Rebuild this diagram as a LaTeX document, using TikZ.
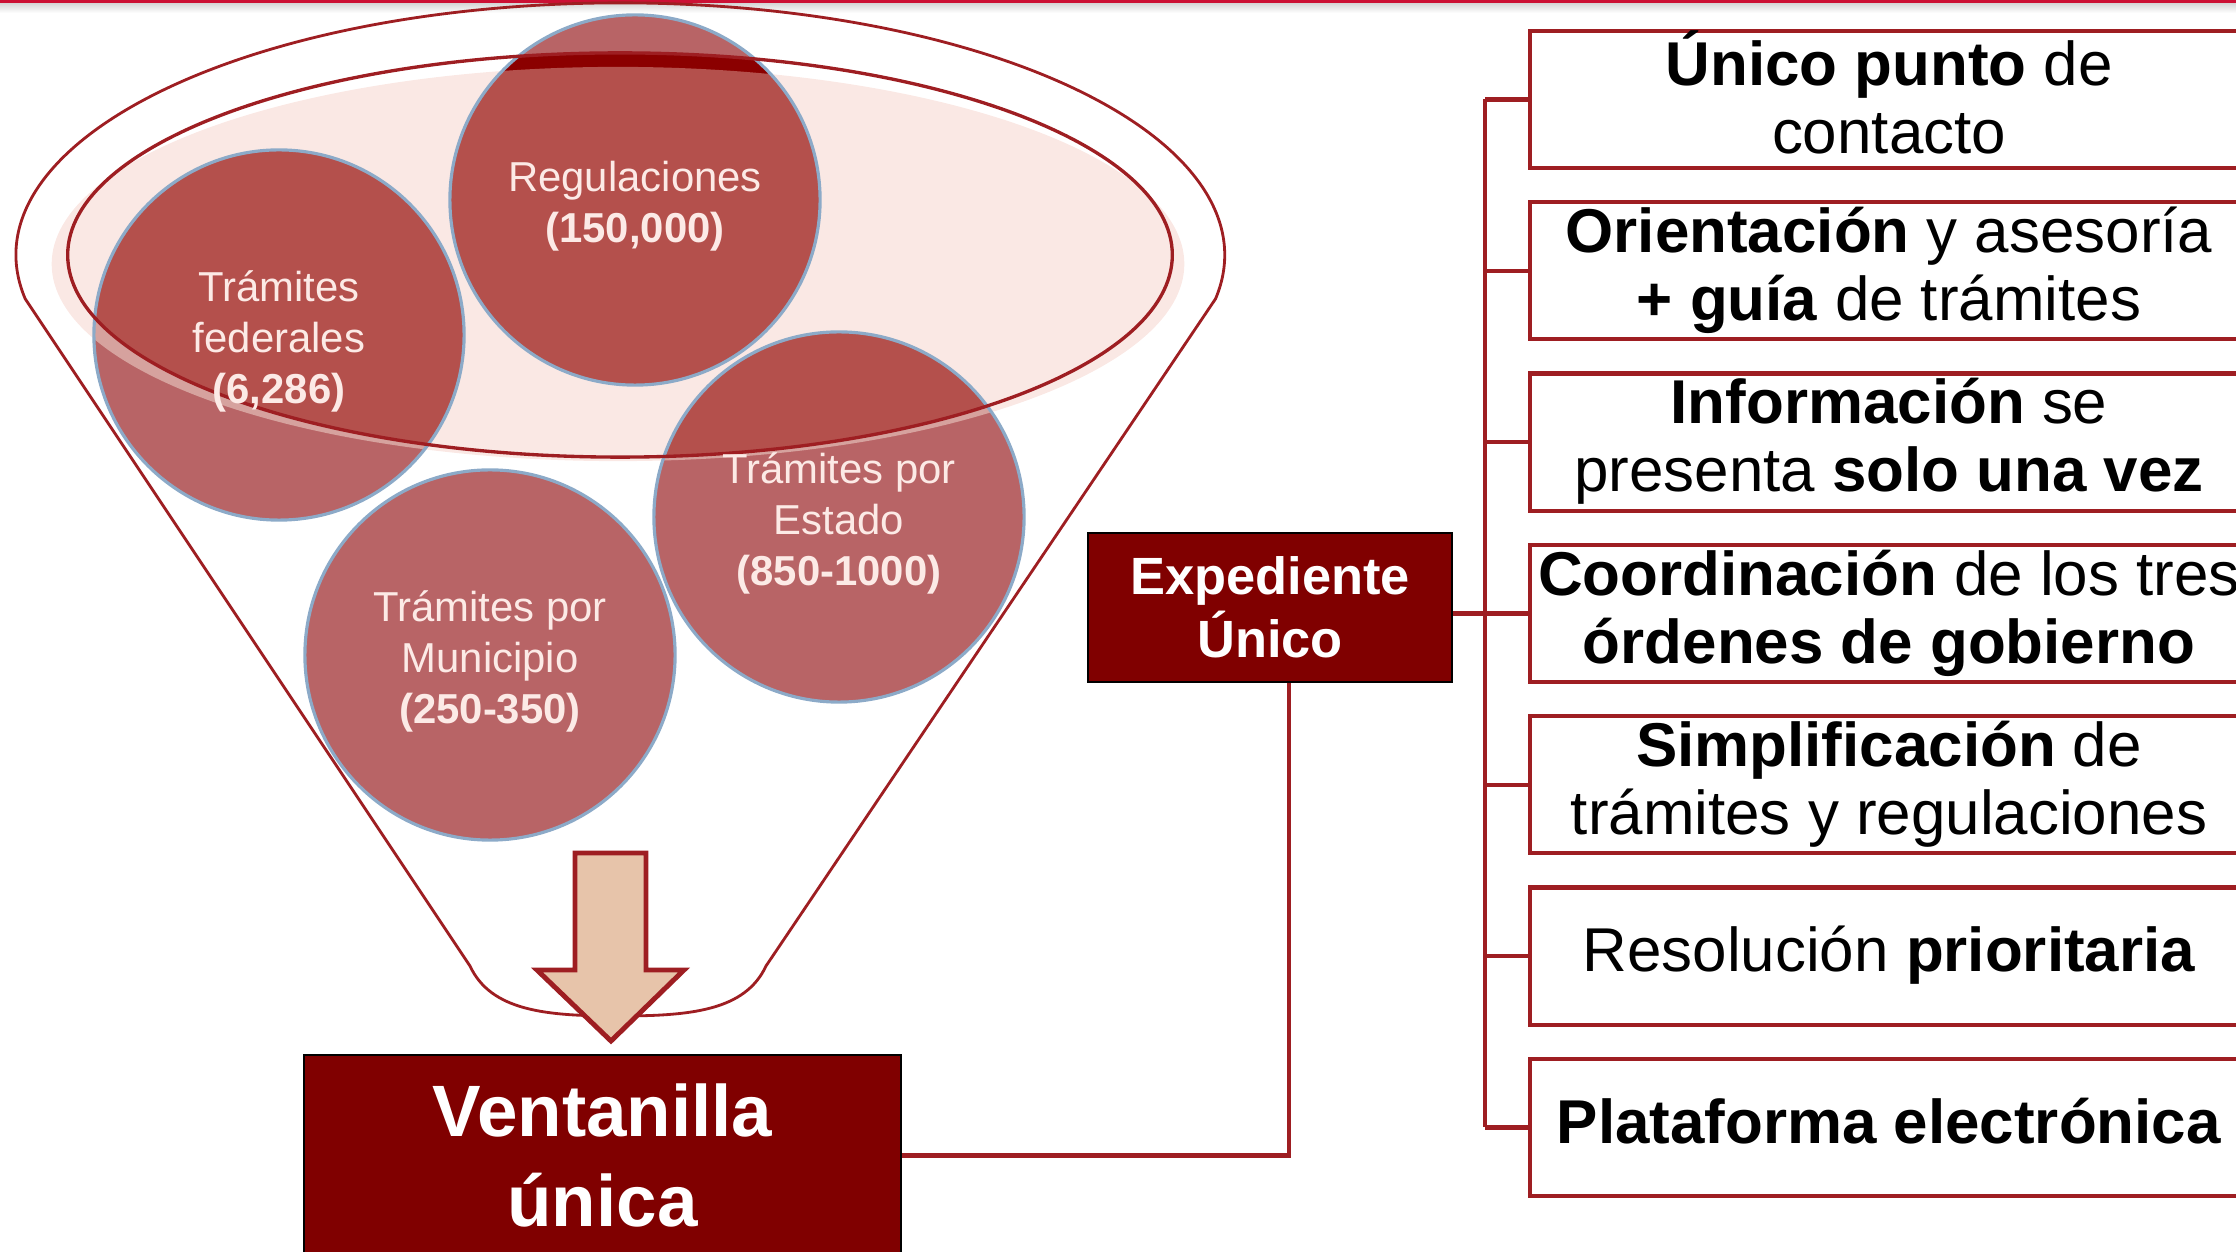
\documentclass[tikz,border=0pt]{standalone}
\usepackage{fontspec}
\setmainfont{Liberation Sans}
\usetikzlibrary{positioning}
\definecolor{lineRed}{RGB}{158,30,34}
\definecolor{boxRed}{RGB}{128,0,0}
\definecolor{bubLight}{RGB}{184,100,102}
\definecolor{bubDark}{RGB}{180,80,76}
\definecolor{bubBand}{RGB}{214,162,158}
\definecolor{bubTop}{RGB}{139,0,0}
\definecolor{bubEdge}{RGB}{140,170,200}
\definecolor{ovalPink}{RGB}{250,232,228}
\definecolor{arrowFill}{RGB}{231,196,170}
\definecolor{topRule}{RGB}{204,16,52}
\definecolor{bubText}{RGB}{252,234,230}
\newcommand{\ls}{\rule[-0.14cm]{0pt}{0.54cm}}
\newcommand{\itemfont}{\fontsize{17.6}{19.3}\selectfont\lineskiplimit=-1cm\relax}

\begin{document}
\begin{tikzpicture}[x=0.01cm, y=0.01cm,
  conn/.style={draw=lineRed, line width=1.2pt},
  itembox/.style={draw=lineRed, line width=1.2pt, fill=white, minimum width=7.18cm,
    minimum height=1.37cm, inner sep=0pt, align=center, font=\itemfont},
  darkbox/.style={draw=black, line width=0.5pt, fill=boxRed, text=white, inner sep=0pt, align=center},
  bubble/.style={circle, minimum size=3.7cm, inner sep=0pt, fill=bubLight},
  bubtext/.style={text=bubText, align=center, yshift=-0.06cm, font=\fontsize{11.9}{14.5}\selectfont}]
  \useasboundingbox (0,0) rectangle (2236,1251);
  \clip (0,0) rectangle (2236,1251);

  \shade [top color=black!18, bottom color=white] (0,1238) rectangle (2236,1249);
  \draw [topRule, line width=0.9pt] (0,1250) -- (2236,1250);

  % funnel mouth
  \fill [ovalPink] (618,987) ellipse [x radius=5.66cm, y radius=1.97cm];

  \node [bubble] (reg) at (635,1051) {};
  \node [bubble] (fed) at (279,916) {};
  \node [bubble] (est) at (839,734) {};
  \node [bubble] (mun) at (490,596) {};

  \begin{scope}
    \clip (618,987) ellipse [x radius=5.66cm, y radius=1.97cm];
    \foreach \b in {reg,fed,est,mun}
      \fill [bubBand] (\b.center) circle [radius=1.85cm];
  \end{scope}
  \begin{scope}
    \clip (620,996) ellipse [x radius=5.52cm, y radius=2.02cm];
    \fill [bubTop] (reg.center) circle [radius=1.85cm];
    \clip (618,987) ellipse [x radius=5.66cm, y radius=1.97cm];
    \foreach \b in {reg,fed,est,mun}
      \fill [bubDark] (\b.center) circle [radius=1.85cm];
  \end{scope}
  \foreach \b in {reg,fed,est,mun}
    \draw [bubEdge, line width=0.9pt] (\b.center) circle [radius=1.85cm];

  \draw [lineRed, line width=0.95pt] (620,996) ellipse [x radius=5.52cm, y radius=2.02cm];
  \draw [lineRed, line width=0.8pt] (25.2,952.2)
    arc [start angle=190, end angle=-10, x radius=6.04cm, y radius=2.52cm]
    -- (766,285) .. controls (745,240) and (690,235) .. (618,235)
    .. controls (546,235) and (491,240) .. (470,285) -- cycle;

  \draw [lineRed, line width=1.4pt, fill=arrowFill, line join=miter]
    (575,398) -- (646,398) -- (646,281) -- (684,281) -- (611,210)
    -- (537,281) -- (575,281) -- cycle;

  \node [bubtext] at (reg) {Regulaciones\\\textbf{(150,000)}};
  \node [bubtext] at (fed) {Trámites\\federales\\\textbf{(6,286)}};
  \node [bubtext] at (est) {Trámites por\\Estado\\\textbf{(850-1000)}};
  \node [bubtext] at (mun) {Trámites por\\Municipio\\\textbf{(250-350)}};

  \node [darkbox, minimum width=5.97cm, minimum height=2.01cm,
    font=\bfseries\fontsize{20.7}{25.6}\selectfont] (vent) at (602.5,95.5) {Ventanilla\\única};
  \node [darkbox, minimum width=3.64cm, minimum height=1.49cm,
    font=\bfseries\fontsize{14.9}{17.9}\selectfont] (exp) at (1270,643.5) {Expediente\\Único};

  \node [itembox] (b1) at (1889,1151.5) {\ls\textbf{Único punto} de\\\ls contacto};
  \node [itembox, below=0.30cm of b1] (b2) {\ls\textbf{Orientación} y asesoría\\\ls\textbf{+ guía} de trámites};
  \node [itembox, below=0.30cm of b2] (b3) {\ls\textbf{Información} se\\\ls presenta \textbf{solo una vez}};
  \node [itembox, below=0.30cm of b3] (b4) {\ls\textbf{Coordinación} de los tres\\\ls\textbf{órdenes de gobierno}};
  \node [itembox, below=0.30cm of b4] (b5) {\ls\textbf{Simplificación} de\\\ls trámites y regulaciones};
  \node [itembox, below=0.30cm of b5] (b6) {\ls Resolución \textbf{prioritaria}};
  \node [itembox, below=0.30cm of b6] (b7) {\ls\textbf{Plataforma electrónica}};

  \coordinate (bus) at (1485,0);
  \coordinate (drop) at (1289,0);
  \foreach \i in {1,...,7}
    \draw [conn] (b\i.west) -- (b\i.west -| bus);
  \draw [conn] (b1.west -| bus) -- (b7.west -| bus);
  \draw [conn] (exp.east |- b4.west) -- (b4.west);
  \draw [conn] (vent.east) -| (drop |- exp.south);
\end{tikzpicture}
\end{document}
